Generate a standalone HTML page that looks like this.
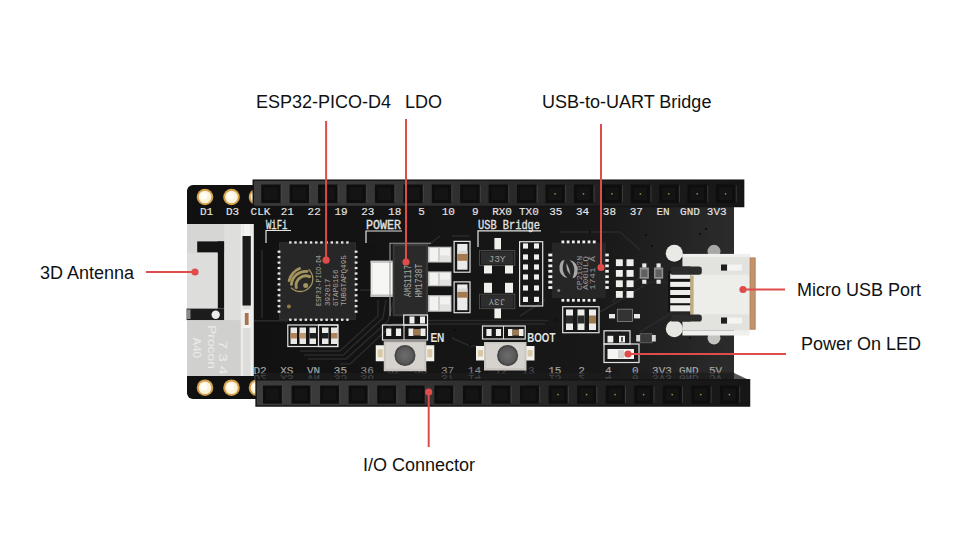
<!DOCTYPE html><html><head><meta charset="utf-8"><style>html,body{margin:0;padding:0;background:#fff;width:960px;height:540px;overflow:hidden}svg{display:block}</style></head><body>
<svg width="960" height="540" viewBox="0 0 960 540">
<defs>
<linearGradient id="hdr" x1="0" x2="1" y1="0" y2="0">
 <stop offset="0" stop-color="#3d3d3d"/><stop offset="0.3" stop-color="#353535"/><stop offset="0.6" stop-color="#262626"/><stop offset="0.85" stop-color="#1a1a1a"/><stop offset="1" stop-color="#161616"/>
</linearGradient>
<linearGradient id="brd" x1="0" x2="1" y1="0" y2="0">
 <stop offset="0" stop-color="#101010"/><stop offset="0.5" stop-color="#151515"/><stop offset="0.75" stop-color="#181818"/><stop offset="0.88" stop-color="#222"/><stop offset="1" stop-color="#2c2c2c"/>
</linearGradient>
<radialGradient id="btn" cx="0.5" cy="0.5" r="0.5">
 <stop offset="0" stop-color="#6e6e6e"/><stop offset="0.75" stop-color="#585858"/><stop offset="1" stop-color="#3a3a3a"/>
</radialGradient>
<linearGradient id="face" x1="0" x2="0" y1="0" y2="1">
 <stop offset="0" stop-color="#1a1a1a" stop-opacity="0.25"/><stop offset="1" stop-color="#1a1a1a" stop-opacity="0.85"/>
</linearGradient>
</defs>
<rect width="960" height="540" fill="#fff"/>
<rect x="187" y="185" width="547" height="214" rx="6" fill="url(#brd)"/>
<path d="M 300 351 L 340 351 L 378 316 L 378 300" fill="none" stroke="#2a2a2a" stroke-width="1.5"/>
<path d="M 304 355 L 343 355 L 383 318 L 386 300" fill="none" stroke="#2a2a2a" stroke-width="1.5"/>
<path d="M 308 359 L 346 359 L 388 321 L 394 300" fill="none" stroke="#2a2a2a" stroke-width="1.5"/>
<path d="M 340 364 L 350 364 L 393 324 L 430 324 L 545 324" fill="none" stroke="#2a2a2a" stroke-width="1.5"/>
<path d="M 428 320.5 L 548 320.5" fill="none" stroke="#2a2a2a" stroke-width="1.5"/>
<path d="M 253 320.8 L 288 320.8" fill="none" stroke="#2a2a2a" stroke-width="1.5"/>
<path d="M 262 250 L 262 318" fill="none" stroke="#2a2a2a" stroke-width="1.5"/>
<path d="M 360 290 L 372 290 L 440 236" fill="none" stroke="#2a2a2a" stroke-width="1.5"/>
<path d="M 452 338 L 470 346 L 478 346" fill="none" stroke="#2a2a2a" stroke-width="1.5"/>
<path d="M 520 316 L 545 300" fill="none" stroke="#2a2a2a" stroke-width="1.5"/>
<path d="M 600 312 L 650 282 L 665 282" fill="none" stroke="#2a2a2a" stroke-width="1.5"/>
<path d="M 612 302 L 650 268" fill="none" stroke="#2a2a2a" stroke-width="1.5"/>
<path d="M 640 332 L 690 302" fill="none" stroke="#2a2a2a" stroke-width="1.5"/>
<path d="M 560 232 L 620 232 L 640 250" fill="none" stroke="#2a2a2a" stroke-width="1.5"/>
<path d="M 452 236 L 470 236" fill="none" stroke="#2a2a2a" stroke-width="1.5"/>
<circle cx="590" cy="232" r="1.1" fill="#0c0c0c"/>
<circle cx="646" cy="235" r="1.1" fill="#0c0c0c"/>
<circle cx="700" cy="234" r="1.1" fill="#0c0c0c"/>
<circle cx="706" cy="229" r="1.1" fill="#0c0c0c"/>
<circle cx="652" cy="246" r="1.1" fill="#0c0c0c"/>
<circle cx="555" cy="320" r="1.1" fill="#0c0c0c"/>
<circle cx="620" cy="332" r="1.1" fill="#0c0c0c"/>
<circle cx="360" cy="280" r="1.1" fill="#0c0c0c"/>
<circle cx="372" cy="248" r="1.1" fill="#0c0c0c"/>
<circle cx="455" cy="330" r="1.1" fill="#0c0c0c"/>
<circle cx="470" cy="345" r="1.1" fill="#0c0c0c"/>
<circle cx="525" cy="300" r="1.1" fill="#0c0c0c"/>
<circle cx="690" cy="338" r="1.1" fill="#0c0c0c"/>
<rect x="187.00" y="224.00" width="54.00" height="152.00" fill="#d6d6d4" />
<rect x="239.00" y="224.00" width="4.00" height="152.00" fill="#ededeb" />
<rect x="243.00" y="224.00" width="9.50" height="152.00" fill="#dcdcda" />
<rect x="250.50" y="224.00" width="3.30" height="152.00" fill="#eeeeec" />
<rect x="242.50" y="236.00" width="8.30" height="69.50" fill="#1a1a1a" />
<rect x="243.50" y="224.00" width="6.50" height="12.00" fill="#f2f2f0" />
<rect x="197.20" y="241.40" width="27.10" height="11.20" fill="#141414" />
<rect x="217.60" y="241.40" width="6.70" height="67.00" fill="#141414" />
<rect x="186.60" y="308.40" width="37.70" height="11.80" fill="#1c1c1c" />
<rect x="187.00" y="309.50" width="3.50" height="9.50" fill="#8a8a8a" />
<circle cx="215.7" cy="314.7" r="4.2" fill="#ebebe9"/>
<rect x="187.00" y="252.60" width="30.60" height="55.80" fill="#dddddb" />
<rect x="224.30" y="224.00" width="16.50" height="96.20" fill="#dededc" />
<rect x="187.00" y="320.20" width="53.80" height="55.80" fill="#d0d0ce" />
<rect x="243.00" y="309.50" width="7.50" height="18.50" fill="#f3f3f1" />
<rect x="244.80" y="313.00" width="3.80" height="12.00" fill="#a87450" />
<text transform="translate(207.5,325) rotate(90)" font-family="Liberation Sans, sans-serif" font-size="10" fill="#ececea" textLength="44" lengthAdjust="spacingAndGlyphs">Procon</text>
<text transform="translate(192.5,337.5) rotate(90)" font-family="Liberation Sans, sans-serif" font-size="10" fill="#ececea" textLength="20.5" lengthAdjust="spacingAndGlyphs">A40</text>
<text transform="translate(218.5,340.6) rotate(90)" font-family="Liberation Sans, sans-serif" font-size="10" fill="#ececea" textLength="34" lengthAdjust="spacingAndGlyphs">7 3 4</text>
<circle cx="205" cy="197" r="8.3" fill="#d49f48"/><circle cx="205" cy="197" r="6.3" fill="#fbf2dc"/><circle cx="204" cy="196" r="3.5" fill="#fffdf6"/>
<circle cx="205" cy="387.7" r="8.3" fill="#d49f48"/><circle cx="205" cy="387.7" r="6.3" fill="#fbf2dc"/><circle cx="204" cy="386.7" r="3.5" fill="#fffdf6"/>
<circle cx="231.5" cy="197" r="8.3" fill="#d49f48"/><circle cx="231.5" cy="197" r="6.3" fill="#fbf2dc"/><circle cx="230.5" cy="196" r="3.5" fill="#fffdf6"/>
<circle cx="231.5" cy="387.7" r="8.3" fill="#d49f48"/><circle cx="231.5" cy="387.7" r="6.3" fill="#fbf2dc"/><circle cx="230.5" cy="386.7" r="3.5" fill="#fffdf6"/>
<circle cx="257" cy="197" r="8.3" fill="#d49f48"/><circle cx="257" cy="197" r="6.3" fill="#fbf2dc"/><circle cx="256" cy="196" r="3.5" fill="#fffdf6"/>
<circle cx="257" cy="387.7" r="8.3" fill="#d49f48"/><circle cx="257" cy="387.7" r="6.3" fill="#fbf2dc"/><circle cx="256" cy="386.7" r="3.5" fill="#fffdf6"/>
<text x="206.5" y="215" text-anchor="middle" font-family="Liberation Mono, monospace" font-size="11" fill="#e4e4e4" stroke="#e4e4e4" stroke-width="0.15" >D1</text>
<text x="232.5" y="215" text-anchor="middle" font-family="Liberation Mono, monospace" font-size="11" fill="#e4e4e4" stroke="#e4e4e4" stroke-width="0.15" >D3</text>
<text x="260.5" y="215" text-anchor="middle" font-family="Liberation Mono, monospace" font-size="11" fill="#e4e4e4" stroke="#e4e4e4" stroke-width="0.15" >CLK</text>
<text x="287.34" y="215" text-anchor="middle" font-family="Liberation Mono, monospace" font-size="11" fill="#e4e4e4" stroke="#e4e4e4" stroke-width="0.15" >21</text>
<text x="314.18" y="215" text-anchor="middle" font-family="Liberation Mono, monospace" font-size="11" fill="#e4e4e4" stroke="#e4e4e4" stroke-width="0.15" >22</text>
<text x="341.02" y="215" text-anchor="middle" font-family="Liberation Mono, monospace" font-size="11" fill="#e4e4e4" stroke="#e4e4e4" stroke-width="0.15" >19</text>
<text x="367.86" y="215" text-anchor="middle" font-family="Liberation Mono, monospace" font-size="11" fill="#e4e4e4" stroke="#e4e4e4" stroke-width="0.15" >23</text>
<text x="394.7" y="215" text-anchor="middle" font-family="Liberation Mono, monospace" font-size="11" fill="#e4e4e4" stroke="#e4e4e4" stroke-width="0.15" >18</text>
<text x="421.53999999999996" y="215" text-anchor="middle" font-family="Liberation Mono, monospace" font-size="11" fill="#e4e4e4" stroke="#e4e4e4" stroke-width="0.15" >5</text>
<text x="448.38" y="215" text-anchor="middle" font-family="Liberation Mono, monospace" font-size="11" fill="#e4e4e4" stroke="#e4e4e4" stroke-width="0.15" >10</text>
<text x="475.22" y="215" text-anchor="middle" font-family="Liberation Mono, monospace" font-size="11" fill="#e4e4e4" stroke="#e4e4e4" stroke-width="0.15" >9</text>
<text x="502.06" y="215" text-anchor="middle" font-family="Liberation Mono, monospace" font-size="11" fill="#e4e4e4" stroke="#e4e4e4" stroke-width="0.15" >RX0</text>
<text x="528.9" y="215" text-anchor="middle" font-family="Liberation Mono, monospace" font-size="11" fill="#e4e4e4" stroke="#e4e4e4" stroke-width="0.15" >TX0</text>
<text x="555.74" y="215" text-anchor="middle" font-family="Liberation Mono, monospace" font-size="11" fill="#e4e4e4" stroke="#e4e4e4" stroke-width="0.15" >35</text>
<text x="582.5799999999999" y="215" text-anchor="middle" font-family="Liberation Mono, monospace" font-size="11" fill="#e4e4e4" stroke="#e4e4e4" stroke-width="0.15" >34</text>
<text x="609.4200000000001" y="215" text-anchor="middle" font-family="Liberation Mono, monospace" font-size="11" fill="#e4e4e4" stroke="#e4e4e4" stroke-width="0.15" >38</text>
<text x="636.26" y="215" text-anchor="middle" font-family="Liberation Mono, monospace" font-size="11" fill="#e4e4e4" stroke="#e4e4e4" stroke-width="0.15" >37</text>
<text x="663.1" y="215" text-anchor="middle" font-family="Liberation Mono, monospace" font-size="11" fill="#e4e4e4" stroke="#e4e4e4" stroke-width="0.15" >EN</text>
<text x="689.94" y="215" text-anchor="middle" font-family="Liberation Mono, monospace" font-size="11" fill="#e4e4e4" stroke="#e4e4e4" stroke-width="0.15" >GND</text>
<text x="716.78" y="215" text-anchor="middle" font-family="Liberation Mono, monospace" font-size="11" fill="#e4e4e4" stroke="#e4e4e4" stroke-width="0.15" >3V3</text>
<text x="260.0" y="373.8" text-anchor="middle" font-family="Liberation Mono, monospace" font-size="11" fill="#a8a8a8" stroke="#a8a8a8" stroke-width="0.15" >D2</text>
<text x="286.8" y="373.8" text-anchor="middle" font-family="Liberation Mono, monospace" font-size="11" fill="#a8a8a8" stroke="#a8a8a8" stroke-width="0.15" >XS</text>
<text x="313.6" y="373.8" text-anchor="middle" font-family="Liberation Mono, monospace" font-size="11" fill="#a8a8a8" stroke="#a8a8a8" stroke-width="0.15" >VN</text>
<text x="340.4" y="373.8" text-anchor="middle" font-family="Liberation Mono, monospace" font-size="11" fill="#a8a8a8" stroke="#a8a8a8" stroke-width="0.15" >35</text>
<text x="367.2" y="373.8" text-anchor="middle" font-family="Liberation Mono, monospace" font-size="11" fill="#b4b4b4" stroke="#b4b4b4" stroke-width="0.15" opacity="0.7">36</text>
<text x="394.0" y="373.8" text-anchor="middle" font-family="Liberation Mono, monospace" font-size="11" fill="#9a9a9a" stroke="#9a9a9a" stroke-width="0.15" opacity="0.4">32</text>
<text x="420.8" y="373.8" text-anchor="middle" font-family="Liberation Mono, monospace" font-size="11" fill="#9a9a9a" stroke="#9a9a9a" stroke-width="0.15" opacity="0.4">33</text>
<text x="447.6" y="373.8" text-anchor="middle" font-family="Liberation Mono, monospace" font-size="11" fill="#b4b4b4" stroke="#b4b4b4" stroke-width="0.15" opacity="0.7">37</text>
<text x="474.4" y="373.8" text-anchor="middle" font-family="Liberation Mono, monospace" font-size="11" fill="#b4b4b4" stroke="#b4b4b4" stroke-width="0.15" opacity="0.7">14</text>
<text x="501.20000000000005" y="373.8" text-anchor="middle" font-family="Liberation Mono, monospace" font-size="11" fill="#9a9a9a" stroke="#9a9a9a" stroke-width="0.15" opacity="0.4">12</text>
<text x="528.0" y="373.8" text-anchor="middle" font-family="Liberation Mono, monospace" font-size="11" fill="#9a9a9a" stroke="#9a9a9a" stroke-width="0.15" opacity="0.4">13</text>
<text x="554.8" y="373.8" text-anchor="middle" font-family="Liberation Mono, monospace" font-size="11" fill="#a8a8a8" stroke="#a8a8a8" stroke-width="0.15" >15</text>
<text x="581.6" y="373.8" text-anchor="middle" font-family="Liberation Mono, monospace" font-size="11" fill="#a8a8a8" stroke="#a8a8a8" stroke-width="0.15" >2</text>
<text x="608.4000000000001" y="373.8" text-anchor="middle" font-family="Liberation Mono, monospace" font-size="11" fill="#a8a8a8" stroke="#a8a8a8" stroke-width="0.15" >4</text>
<text x="635.2" y="373.8" text-anchor="middle" font-family="Liberation Mono, monospace" font-size="11" fill="#a8a8a8" stroke="#a8a8a8" stroke-width="0.15" >0</text>
<text x="662.0" y="373.8" text-anchor="middle" font-family="Liberation Mono, monospace" font-size="11" fill="#a8a8a8" stroke="#a8a8a8" stroke-width="0.15" >3V3</text>
<text x="688.8" y="373.8" text-anchor="middle" font-family="Liberation Mono, monospace" font-size="11" fill="#a8a8a8" stroke="#a8a8a8" stroke-width="0.15" >GND</text>
<text x="715.6" y="373.8" text-anchor="middle" font-family="Liberation Mono, monospace" font-size="11" fill="#a8a8a8" stroke="#a8a8a8" stroke-width="0.15" >5V</text>
<text x="266" y="228.8" font-family="Liberation Mono, monospace" font-size="12" fill="#e4e4e4" stroke="#e4e4e4" stroke-width="0.3" textLength="21.5" lengthAdjust="spacingAndGlyphs">WiFi</text>
<path d="M 266 243 L 266 230.5 L 291 230.5" fill="none" stroke="#e4e4e4" stroke-width="1.2"/>
<text x="366" y="229.2" font-family="Liberation Mono, monospace" font-size="12" fill="#e4e4e4" stroke="#e4e4e4" stroke-width="0.3" textLength="35" lengthAdjust="spacingAndGlyphs">POWER</text>
<path d="M 366 243 L 366 231 L 402 231" fill="none" stroke="#e4e4e4" stroke-width="1.2"/>
<text x="478" y="229.4" font-family="Liberation Mono, monospace" font-size="12" fill="#e4e4e4" stroke="#e4e4e4" stroke-width="0.3" textLength="62" lengthAdjust="spacingAndGlyphs">USB Bridge</text>
<path d="M 478 247 L 478 230.8 L 541 230.8" fill="none" stroke="#e4e4e4" stroke-width="1.2"/>
<text x="430.4" y="342" font-family="Liberation Sans, sans-serif" font-weight="bold" font-size="13.5" fill="#e4e4e4" textLength="14" lengthAdjust="spacingAndGlyphs">EN</text>
<text x="527.3" y="342" font-family="Liberation Sans, sans-serif" font-weight="bold" font-size="13.5" fill="#e4e4e4" textLength="28" lengthAdjust="spacingAndGlyphs">BOOT</text>
<rect x="253.30" y="180.20" width="490.30" height="26.30" fill="url(#hdr)" />
<rect x="253.3" y="180.2" width="490.3" height="26.30000000000001" fill="none" stroke="#141414" stroke-width="1.5"/>
<rect x="261.25" y="184.50" width="19.30" height="18.60" fill="#0e0e0e" />
<rect x="264.25" y="187.50" width="13.30" height="12.60" fill="#141414" />
<rect x="281.05" y="185.50" width="0.90" height="16.60" fill="#4a4a4a" opacity="0.7"/>
<rect x="289.67" y="184.50" width="19.30" height="18.60" fill="#0e0e0e" />
<rect x="292.67" y="187.50" width="13.30" height="12.60" fill="#141414" />
<rect x="309.47" y="185.50" width="0.90" height="16.60" fill="#4a4a4a" opacity="0.7"/>
<rect x="318.09" y="184.50" width="19.30" height="18.60" fill="#0e0e0e" />
<rect x="321.09" y="187.50" width="13.30" height="12.60" fill="#141414" />
<rect x="337.89" y="185.50" width="0.90" height="16.60" fill="#4a4a4a" opacity="0.7"/>
<rect x="346.51" y="184.50" width="19.30" height="18.60" fill="#0e0e0e" />
<rect x="349.51" y="187.50" width="13.30" height="12.60" fill="#141414" />
<rect x="366.31" y="185.50" width="0.90" height="16.60" fill="#4a4a4a" opacity="0.7"/>
<rect x="374.93" y="184.50" width="19.30" height="18.60" fill="#0e0e0e" />
<rect x="377.93" y="187.50" width="13.30" height="12.60" fill="#141414" />
<rect x="394.73" y="185.50" width="0.90" height="16.60" fill="#4a4a4a" opacity="0.7"/>
<rect x="403.35" y="184.50" width="19.30" height="18.60" fill="#0e0e0e" />
<rect x="406.35" y="187.50" width="13.30" height="12.60" fill="#141414" />
<rect x="423.15" y="185.50" width="0.90" height="16.60" fill="#4a4a4a" opacity="0.7"/>
<rect x="431.77" y="184.50" width="19.30" height="18.60" fill="#0e0e0e" />
<rect x="434.77" y="187.50" width="13.30" height="12.60" fill="#141414" />
<rect x="451.57" y="185.50" width="0.90" height="16.60" fill="#4a4a4a" opacity="0.7"/>
<rect x="460.19" y="184.50" width="19.30" height="18.60" fill="#0e0e0e" />
<rect x="463.19" y="187.50" width="13.30" height="12.60" fill="#141414" />
<rect x="479.99" y="185.50" width="0.90" height="16.60" fill="#4a4a4a" opacity="0.7"/>
<rect x="488.61" y="184.50" width="19.30" height="18.60" fill="#0e0e0e" />
<rect x="491.61" y="187.50" width="13.30" height="12.60" fill="#141414" />
<rect x="508.41" y="185.50" width="0.90" height="16.60" fill="#4a4a4a" opacity="0.7"/>
<rect x="517.03" y="184.50" width="19.30" height="18.60" fill="#0e0e0e" />
<rect x="520.03" y="187.50" width="13.30" height="12.60" fill="#141414" />
<rect x="536.83" y="185.50" width="0.90" height="16.60" fill="#4a4a4a" opacity="0.7"/>
<rect x="545.45" y="184.50" width="19.30" height="18.60" fill="#0e0e0e" />
<rect x="548.45" y="187.50" width="13.30" height="12.60" fill="#141414" />
<circle cx="555.1" cy="193.8" r="0.9" fill="#9a8640"/>
<rect x="565.25" y="185.50" width="0.90" height="16.60" fill="#4a4a4a" opacity="0.7"/>
<rect x="573.87" y="184.50" width="19.30" height="18.60" fill="#0e0e0e" />
<rect x="576.87" y="187.50" width="13.30" height="12.60" fill="#141414" />
<circle cx="583.5" cy="193.8" r="0.9" fill="#9a8640"/>
<rect x="593.67" y="185.50" width="0.90" height="16.60" fill="#4a4a4a" opacity="0.7"/>
<rect x="602.29" y="184.50" width="19.30" height="18.60" fill="#0e0e0e" />
<rect x="605.29" y="187.50" width="13.30" height="12.60" fill="#141414" />
<circle cx="611.9" cy="193.8" r="0.9" fill="#9a8640"/>
<rect x="622.09" y="185.50" width="0.90" height="16.60" fill="#4a4a4a" opacity="0.7"/>
<rect x="630.71" y="184.50" width="19.30" height="18.60" fill="#0e0e0e" />
<rect x="633.71" y="187.50" width="13.30" height="12.60" fill="#141414" />
<circle cx="640.4" cy="193.8" r="0.9" fill="#9a8640"/>
<rect x="650.51" y="185.50" width="0.90" height="16.60" fill="#4a4a4a" opacity="0.7"/>
<rect x="659.13" y="184.50" width="19.30" height="18.60" fill="#0e0e0e" />
<rect x="662.13" y="187.50" width="13.30" height="12.60" fill="#141414" />
<circle cx="668.8" cy="193.8" r="0.9" fill="#9a8640"/>
<rect x="678.93" y="185.50" width="0.90" height="16.60" fill="#4a4a4a" opacity="0.7"/>
<rect x="687.55" y="184.50" width="19.30" height="18.60" fill="#0e0e0e" />
<rect x="690.55" y="187.50" width="13.30" height="12.60" fill="#141414" />
<circle cx="697.2" cy="193.8" r="0.9" fill="#9a8640"/>
<rect x="707.35" y="185.50" width="0.90" height="16.60" fill="#4a4a4a" opacity="0.7"/>
<rect x="715.97" y="184.50" width="19.30" height="18.60" fill="#0e0e0e" />
<rect x="718.97" y="187.50" width="13.30" height="12.60" fill="#141414" />
<circle cx="725.6" cy="193.8" r="0.9" fill="#9a8640"/>
<rect x="735.77" y="185.50" width="0.90" height="16.60" fill="#4a4a4a" opacity="0.7"/>
<path d="M 256 373 L 733 372.5 L 748.5 379.8 L 256 379.8 Z" fill="#1c1c1c" opacity="0.75"/>
<g opacity="0.3" transform="translate(0,748.5) scale(1,-1)">
<text x="260.0" y="373.8" text-anchor="middle" font-family="Liberation Mono, monospace" font-size="11" fill="#a8a8a8" stroke="#a8a8a8" stroke-width="0.15" >D2</text>
<text x="286.8" y="373.8" text-anchor="middle" font-family="Liberation Mono, monospace" font-size="11" fill="#a8a8a8" stroke="#a8a8a8" stroke-width="0.15" >XS</text>
<text x="313.6" y="373.8" text-anchor="middle" font-family="Liberation Mono, monospace" font-size="11" fill="#a8a8a8" stroke="#a8a8a8" stroke-width="0.15" >VN</text>
<text x="340.4" y="373.8" text-anchor="middle" font-family="Liberation Mono, monospace" font-size="11" fill="#a8a8a8" stroke="#a8a8a8" stroke-width="0.15" >35</text>
<text x="367.2" y="373.8" text-anchor="middle" font-family="Liberation Mono, monospace" font-size="11" fill="#a8a8a8" stroke="#a8a8a8" stroke-width="0.15" >36</text>
<text x="447.6" y="373.8" text-anchor="middle" font-family="Liberation Mono, monospace" font-size="11" fill="#a8a8a8" stroke="#a8a8a8" stroke-width="0.15" >37</text>
<text x="474.4" y="373.8" text-anchor="middle" font-family="Liberation Mono, monospace" font-size="11" fill="#a8a8a8" stroke="#a8a8a8" stroke-width="0.15" >14</text>
<text x="554.8" y="373.8" text-anchor="middle" font-family="Liberation Mono, monospace" font-size="11" fill="#a8a8a8" stroke="#a8a8a8" stroke-width="0.15" >15</text>
<text x="581.6" y="373.8" text-anchor="middle" font-family="Liberation Mono, monospace" font-size="11" fill="#a8a8a8" stroke="#a8a8a8" stroke-width="0.15" >2</text>
<text x="608.4000000000001" y="373.8" text-anchor="middle" font-family="Liberation Mono, monospace" font-size="11" fill="#a8a8a8" stroke="#a8a8a8" stroke-width="0.15" >4</text>
<text x="635.2" y="373.8" text-anchor="middle" font-family="Liberation Mono, monospace" font-size="11" fill="#a8a8a8" stroke="#a8a8a8" stroke-width="0.15" >0</text>
<text x="662.0" y="373.8" text-anchor="middle" font-family="Liberation Mono, monospace" font-size="11" fill="#a8a8a8" stroke="#a8a8a8" stroke-width="0.15" >3V3</text>
<text x="688.8" y="373.8" text-anchor="middle" font-family="Liberation Mono, monospace" font-size="11" fill="#a8a8a8" stroke="#a8a8a8" stroke-width="0.15" >GND</text>
<text x="715.6" y="373.8" text-anchor="middle" font-family="Liberation Mono, monospace" font-size="11" fill="#a8a8a8" stroke="#a8a8a8" stroke-width="0.15" >5V</text>
</g>
<rect x="256.10" y="379.80" width="493.40" height="26.20" fill="url(#hdr)" />
<rect x="256.1" y="379.8" width="493.4" height="26.19999999999999" fill="none" stroke="#141414" stroke-width="1.5"/>
<rect x="263.00" y="385.50" width="18.80" height="18.20" fill="#0e0e0e" />
<rect x="266.00" y="388.50" width="12.80" height="12.20" fill="#141414" />
<rect x="282.30" y="386.50" width="0.90" height="16.20" fill="#4a4a4a" opacity="0.7"/>
<rect x="291.56" y="385.50" width="18.80" height="18.20" fill="#0e0e0e" />
<rect x="294.56" y="388.50" width="12.80" height="12.20" fill="#141414" />
<rect x="310.86" y="386.50" width="0.90" height="16.20" fill="#4a4a4a" opacity="0.7"/>
<rect x="320.12" y="385.50" width="18.80" height="18.20" fill="#0e0e0e" />
<rect x="323.12" y="388.50" width="12.80" height="12.20" fill="#141414" />
<rect x="339.42" y="386.50" width="0.90" height="16.20" fill="#4a4a4a" opacity="0.7"/>
<rect x="348.68" y="385.50" width="18.80" height="18.20" fill="#0e0e0e" />
<rect x="351.68" y="388.50" width="12.80" height="12.20" fill="#141414" />
<rect x="367.98" y="386.50" width="0.90" height="16.20" fill="#4a4a4a" opacity="0.7"/>
<rect x="377.24" y="385.50" width="18.80" height="18.20" fill="#0e0e0e" />
<rect x="380.24" y="388.50" width="12.80" height="12.20" fill="#141414" />
<rect x="396.54" y="386.50" width="0.90" height="16.20" fill="#4a4a4a" opacity="0.7"/>
<rect x="405.80" y="385.50" width="18.80" height="18.20" fill="#0e0e0e" />
<rect x="408.80" y="388.50" width="12.80" height="12.20" fill="#141414" />
<rect x="425.10" y="386.50" width="0.90" height="16.20" fill="#4a4a4a" opacity="0.7"/>
<rect x="434.36" y="385.50" width="18.80" height="18.20" fill="#0e0e0e" />
<rect x="437.36" y="388.50" width="12.80" height="12.20" fill="#141414" />
<rect x="453.66" y="386.50" width="0.90" height="16.20" fill="#4a4a4a" opacity="0.7"/>
<rect x="462.92" y="385.50" width="18.80" height="18.20" fill="#0e0e0e" />
<rect x="465.92" y="388.50" width="12.80" height="12.20" fill="#141414" />
<rect x="482.22" y="386.50" width="0.90" height="16.20" fill="#4a4a4a" opacity="0.7"/>
<rect x="491.48" y="385.50" width="18.80" height="18.20" fill="#0e0e0e" />
<rect x="494.48" y="388.50" width="12.80" height="12.20" fill="#141414" />
<rect x="510.78" y="386.50" width="0.90" height="16.20" fill="#4a4a4a" opacity="0.7"/>
<rect x="520.04" y="385.50" width="18.80" height="18.20" fill="#0e0e0e" />
<rect x="523.04" y="388.50" width="12.80" height="12.20" fill="#141414" />
<rect x="539.34" y="386.50" width="0.90" height="16.20" fill="#4a4a4a" opacity="0.7"/>
<rect x="548.60" y="385.50" width="18.80" height="18.20" fill="#0e0e0e" />
<rect x="551.60" y="388.50" width="12.80" height="12.20" fill="#141414" />
<circle cx="558.0" cy="394.6" r="0.9" fill="#9a8640"/>
<rect x="567.90" y="386.50" width="0.90" height="16.20" fill="#4a4a4a" opacity="0.7"/>
<rect x="577.16" y="385.50" width="18.80" height="18.20" fill="#0e0e0e" />
<rect x="580.16" y="388.50" width="12.80" height="12.20" fill="#141414" />
<circle cx="586.6" cy="394.6" r="0.9" fill="#9a8640"/>
<rect x="596.46" y="386.50" width="0.90" height="16.20" fill="#4a4a4a" opacity="0.7"/>
<rect x="605.72" y="385.50" width="18.80" height="18.20" fill="#0e0e0e" />
<rect x="608.72" y="388.50" width="12.80" height="12.20" fill="#141414" />
<circle cx="615.1" cy="394.6" r="0.9" fill="#9a8640"/>
<rect x="625.02" y="386.50" width="0.90" height="16.20" fill="#4a4a4a" opacity="0.7"/>
<rect x="634.28" y="385.50" width="18.80" height="18.20" fill="#0e0e0e" />
<rect x="637.28" y="388.50" width="12.80" height="12.20" fill="#141414" />
<circle cx="643.7" cy="394.6" r="0.9" fill="#9a8640"/>
<rect x="653.58" y="386.50" width="0.90" height="16.20" fill="#4a4a4a" opacity="0.7"/>
<rect x="662.84" y="385.50" width="18.80" height="18.20" fill="#0e0e0e" />
<rect x="665.84" y="388.50" width="12.80" height="12.20" fill="#141414" />
<circle cx="672.2" cy="394.6" r="0.9" fill="#9a8640"/>
<rect x="682.14" y="386.50" width="0.90" height="16.20" fill="#4a4a4a" opacity="0.7"/>
<rect x="691.40" y="385.50" width="18.80" height="18.20" fill="#0e0e0e" />
<rect x="694.40" y="388.50" width="12.80" height="12.20" fill="#141414" />
<circle cx="700.8" cy="394.6" r="0.9" fill="#9a8640"/>
<rect x="710.70" y="386.50" width="0.90" height="16.20" fill="#4a4a4a" opacity="0.7"/>
<rect x="719.96" y="385.50" width="18.80" height="18.20" fill="#0e0e0e" />
<rect x="722.96" y="388.50" width="12.80" height="12.20" fill="#141414" />
<circle cx="729.4" cy="394.6" r="0.9" fill="#9a8640"/>
<rect x="739.26" y="386.50" width="0.90" height="16.20" fill="#4a4a4a" opacity="0.7"/>
<rect x="279.50" y="242.80" width="76.10" height="76.60" fill="#272727" />
<rect x="279.50" y="242.80" width="76.10" height="76.60" fill="none" stroke="#333" stroke-width="0.8" />
<rect x="289.10" y="241.30" width="2.40" height="2.30" fill="#e8e8e8" />
<rect x="289.10" y="318.60" width="2.40" height="2.30" fill="#e8e8e8" />
<rect x="277.60" y="250.60" width="2.80" height="2.20" fill="#e8e8e8" />
<rect x="354.70" y="250.60" width="2.80" height="2.20" fill="#e8e8e8" />
<rect x="294.29" y="241.30" width="2.40" height="2.30" fill="#e8e8e8" />
<rect x="294.29" y="318.60" width="2.40" height="2.30" fill="#e8e8e8" />
<rect x="277.60" y="256.05" width="2.80" height="2.20" fill="#e8e8e8" />
<rect x="354.70" y="256.05" width="2.80" height="2.20" fill="#e8e8e8" />
<rect x="299.48" y="241.30" width="2.40" height="2.30" fill="#e8e8e8" />
<rect x="299.48" y="318.60" width="2.40" height="2.30" fill="#e8e8e8" />
<rect x="277.60" y="261.50" width="2.80" height="2.20" fill="#e8e8e8" />
<rect x="354.70" y="261.50" width="2.80" height="2.20" fill="#e8e8e8" />
<rect x="304.67" y="241.30" width="2.40" height="2.30" fill="#e8e8e8" />
<rect x="304.67" y="318.60" width="2.40" height="2.30" fill="#e8e8e8" />
<rect x="277.60" y="266.95" width="2.80" height="2.20" fill="#e8e8e8" />
<rect x="354.70" y="266.95" width="2.80" height="2.20" fill="#e8e8e8" />
<rect x="309.86" y="241.30" width="2.40" height="2.30" fill="#e8e8e8" />
<rect x="309.86" y="318.60" width="2.40" height="2.30" fill="#e8e8e8" />
<rect x="277.60" y="272.40" width="2.80" height="2.20" fill="#e8e8e8" />
<rect x="354.70" y="272.40" width="2.80" height="2.20" fill="#e8e8e8" />
<rect x="315.05" y="241.30" width="2.40" height="2.30" fill="#e8e8e8" />
<rect x="315.05" y="318.60" width="2.40" height="2.30" fill="#e8e8e8" />
<rect x="277.60" y="277.85" width="2.80" height="2.20" fill="#e8e8e8" />
<rect x="354.70" y="277.85" width="2.80" height="2.20" fill="#e8e8e8" />
<rect x="320.24" y="241.30" width="2.40" height="2.30" fill="#e8e8e8" />
<rect x="320.24" y="318.60" width="2.40" height="2.30" fill="#e8e8e8" />
<rect x="277.60" y="283.30" width="2.80" height="2.20" fill="#e8e8e8" />
<rect x="354.70" y="283.30" width="2.80" height="2.20" fill="#e8e8e8" />
<rect x="325.43" y="241.30" width="2.40" height="2.30" fill="#e8e8e8" />
<rect x="325.43" y="318.60" width="2.40" height="2.30" fill="#e8e8e8" />
<rect x="277.60" y="288.75" width="2.80" height="2.20" fill="#e8e8e8" />
<rect x="354.70" y="288.75" width="2.80" height="2.20" fill="#e8e8e8" />
<rect x="330.62" y="241.30" width="2.40" height="2.30" fill="#e8e8e8" />
<rect x="330.62" y="318.60" width="2.40" height="2.30" fill="#e8e8e8" />
<rect x="277.60" y="294.20" width="2.80" height="2.20" fill="#e8e8e8" />
<rect x="354.70" y="294.20" width="2.80" height="2.20" fill="#e8e8e8" />
<rect x="335.81" y="241.30" width="2.40" height="2.30" fill="#e8e8e8" />
<rect x="335.81" y="318.60" width="2.40" height="2.30" fill="#e8e8e8" />
<rect x="277.60" y="299.65" width="2.80" height="2.20" fill="#e8e8e8" />
<rect x="354.70" y="299.65" width="2.80" height="2.20" fill="#e8e8e8" />
<rect x="341.00" y="241.30" width="2.40" height="2.30" fill="#e8e8e8" />
<rect x="341.00" y="318.60" width="2.40" height="2.30" fill="#e8e8e8" />
<rect x="277.60" y="305.10" width="2.80" height="2.20" fill="#e8e8e8" />
<rect x="354.70" y="305.10" width="2.80" height="2.20" fill="#e8e8e8" />
<rect x="346.19" y="241.30" width="2.40" height="2.30" fill="#e8e8e8" />
<rect x="346.19" y="318.60" width="2.40" height="2.30" fill="#e8e8e8" />
<rect x="277.60" y="310.55" width="2.80" height="2.20" fill="#e8e8e8" />
<rect x="354.70" y="310.55" width="2.80" height="2.20" fill="#e8e8e8" />
<g stroke="#a3945e" fill="none" stroke-linecap="round"><path d="M 296.3 287.6 A 9.7 9.7 0 0 1 309.6 276.6" stroke-width="2.9"/><path d="M 291.4 284.4 A 14.4 14.4 0 0 1 307 271.4" stroke-width="2.9"/><path d="M 289.2 280.5 A 17.7 17.7 0 0 1 299.5 268.5" stroke-width="2.9"/><path d="M 308.9 269.8 A 12 12 0 1 1 291.4 288" stroke-width="1.3"/></g><circle cx="305.7" cy="285.4" r="2.5" fill="#a3945e"/>
<circle cx="288.9" cy="306.6" r="2" fill="#8f7a48"/>
<text transform="translate(321,306) rotate(-90)" font-family="Liberation Mono, monospace" font-size="7.6" fill="#aaa69a" textLength="51" lengthAdjust="spacingAndGlyphs">ESP32-PICO-D4</text>
<text transform="translate(329.5,306) rotate(-90)" font-family="Liberation Mono, monospace" font-size="7.6" fill="#aaa69a">392017</text>
<text transform="translate(337.5,306) rotate(-90)" font-family="Liberation Mono, monospace" font-size="7.6" fill="#aaa69a">GTAPG156</text>
<text transform="translate(346,306) rotate(-90)" font-family="Liberation Mono, monospace" font-size="7.6" fill="#aaa69a" textLength="51" lengthAdjust="spacingAndGlyphs">TUBGTAPQ495</text>
<rect x="287.80" y="325.00" width="50.00" height="21.50" fill="none" stroke="#e4e4e4" stroke-width="1.2" />
<rect x="318.50" y="325.00" width="19.30" height="21.50" fill="none" stroke="#e4e4e4" stroke-width="1.2" />
<rect x="290.50" y="327.50" width="6.50" height="16.50" fill="#e8e8e6" />
<rect x="290.50" y="333.00" width="6.50" height="5.50" fill="#b08458" />
<rect x="299.50" y="327.50" width="6.50" height="16.50" fill="#e8e8e6" />
<rect x="299.50" y="333.00" width="6.50" height="5.50" fill="#c0976a" />
<rect x="309.50" y="327.50" width="6.50" height="16.50" fill="#e8e8e6" />
<rect x="309.50" y="333.00" width="6.50" height="5.50" fill="#1e1e1e" />
<rect x="322.00" y="327.50" width="6.50" height="16.50" fill="#e8e8e6" />
<rect x="322.00" y="333.00" width="6.50" height="5.50" fill="#1e1e1e" />
<rect x="331.00" y="327.50" width="6.50" height="16.50" fill="#e8e8e6" />
<rect x="331.00" y="333.00" width="6.50" height="5.50" fill="#b08458" />
<rect x="370.60" y="260.80" width="22.80" height="36.10" fill="#e8e8e6" />
<rect x="373.00" y="263.00" width="19.00" height="32.00" fill="#f6f6f4" />
<rect x="370.60" y="260.80" width="22.80" height="2.20" fill="#c8c8c6" />
<rect x="370.60" y="294.50" width="22.80" height="2.40" fill="#bdbdbb" />
<path d="M 390 316 L 390 243.2 L 431 243.2" fill="none" stroke="#9a9a9a" stroke-width="1.1"/>
<rect x="392.70" y="244.00" width="35.30" height="72.20" fill="#3a3a3a" />
<rect x="394.50" y="246.00" width="31.70" height="68.40" fill="#2a2a2a" />
<text transform="translate(410.5,297) rotate(-90)" font-family="Liberation Mono, monospace" font-size="10" fill="#a8a8a8" textLength="32" lengthAdjust="spacingAndGlyphs">AMS1117</text>
<text transform="translate(422,297.7) rotate(-90)" font-family="Liberation Mono, monospace" font-size="10" fill="#a8a8a8" textLength="34" lengthAdjust="spacingAndGlyphs">HM1738T</text>
<rect x="428.00" y="246.70" width="23.50" height="15.90" fill="#bcbcba" />
<rect x="429.50" y="247.90" width="21.00" height="13.50" fill="#f2f2f0" />
<rect x="438.00" y="247.90" width="2.00" height="13.50" fill="#d0d0ce" />
<rect x="440.00" y="255.44" width="10.50" height="5.96" fill="#e2e2e0" />
<rect x="428.00" y="271.40" width="23.50" height="14.90" fill="#bcbcba" />
<rect x="429.50" y="272.60" width="21.00" height="12.50" fill="#f2f2f0" />
<rect x="438.00" y="272.60" width="2.00" height="12.50" fill="#d0d0ce" />
<rect x="440.00" y="279.59" width="10.50" height="5.51" fill="#e2e2e0" />
<rect x="428.00" y="295.10" width="23.50" height="16.70" fill="#bcbcba" />
<rect x="429.50" y="296.30" width="21.00" height="14.30" fill="#f2f2f0" />
<rect x="438.00" y="296.30" width="2.00" height="14.30" fill="#d0d0ce" />
<rect x="440.00" y="304.29" width="10.50" height="6.31" fill="#e2e2e0" />
<rect x="454.10" y="241.40" width="15.90" height="30.80" fill="none" stroke="#e4e4e4" stroke-width="1.2" />
<rect x="457.20" y="243.90" width="10.30" height="25.80" fill="#ebebe9" />
<rect x="457.20" y="253.80" width="10.30" height="7.00" fill="#a67a50" />
<rect x="457.20" y="250.80" width="10.30" height="3.00" fill="#d8d8d4" />
<rect x="454.10" y="281.90" width="15.90" height="30.80" fill="none" stroke="#e4e4e4" stroke-width="1.2" />
<rect x="457.20" y="284.40" width="10.30" height="25.80" fill="#ebebe9" />
<rect x="457.20" y="291.60" width="10.30" height="6.10" fill="#a67a50" />
<rect x="457.20" y="288.60" width="10.30" height="3.00" fill="#d8d8d4" />
<rect x="481.00" y="251.50" width="32.30" height="13.00" fill="#2e2e2e" />
<rect x="479.50" y="250.50" width="35.30" height="15.00" fill="none" stroke="#555" stroke-width="0.8" />
<rect x="494.40" y="238.00" width="6.60" height="11.40" fill="#efefec" />
<rect x="484.00" y="265.50" width="8.00" height="8.00" fill="#efefec" />
<rect x="505.00" y="265.50" width="8.00" height="8.00" fill="#efefec" />
<text x="497" y="261.5" text-anchor="middle" font-family="Liberation Mono, monospace" font-size="9.5" fill="#a0a0a0">J3Y</text>
<rect x="481.00" y="295.20" width="32.30" height="12.50" fill="#2e2e2e" />
<rect x="479.50" y="294.20" width="35.30" height="14.50" fill="none" stroke="#555" stroke-width="0.8" />
<rect x="484.00" y="282.80" width="8.00" height="10.00" fill="#efefec" />
<rect x="505.00" y="282.80" width="8.00" height="10.00" fill="#efefec" />
<rect x="494.40" y="308.50" width="6.60" height="9.80" fill="#efefec" />
<text transform="translate(497,298.5) rotate(180)" text-anchor="middle" font-family="Liberation Mono, monospace" font-size="9.5" fill="#a0a0a0">J3Y</text>
<rect x="519.60" y="241.70" width="23.10" height="64.30" fill="none" stroke="#e4e4e4" stroke-width="1.2" />
<rect x="523.00" y="243.40" width="5.00" height="5.20" fill="#efefec" />
<rect x="534.00" y="243.40" width="5.00" height="5.20" fill="#efefec" />
<rect x="523.00" y="254.40" width="5.00" height="5.20" fill="#efefec" />
<rect x="534.00" y="254.40" width="5.00" height="5.20" fill="#efefec" />
<rect x="523.00" y="264.40" width="5.00" height="5.20" fill="#efefec" />
<rect x="534.00" y="264.40" width="5.00" height="5.20" fill="#efefec" />
<rect x="523.00" y="274.40" width="5.00" height="5.20" fill="#efefec" />
<rect x="534.00" y="274.40" width="5.00" height="5.20" fill="#efefec" />
<rect x="523.00" y="285.40" width="5.00" height="5.20" fill="#efefec" />
<rect x="534.00" y="285.40" width="5.00" height="5.20" fill="#efefec" />
<rect x="523.00" y="296.80" width="5.00" height="5.20" fill="#efefec" />
<rect x="534.00" y="296.80" width="5.00" height="5.20" fill="#efefec" />
<rect x="551.80" y="242.60" width="54.20" height="55.60" fill="#262626" />
<rect x="561.50" y="240.50" width="2.80" height="2.80" fill="#f0f0f0" />
<rect x="561.50" y="298.90" width="2.80" height="2.80" fill="#f0f0f0" />
<rect x="548.30" y="253.60" width="4.00" height="2.80" fill="#f0f0f0" />
<rect x="605.30" y="253.60" width="3.50" height="2.80" fill="#f0f0f0" />
<rect x="566.72" y="240.50" width="2.80" height="2.80" fill="#f0f0f0" />
<rect x="566.72" y="298.90" width="2.80" height="2.80" fill="#f0f0f0" />
<rect x="548.30" y="259.02" width="4.00" height="2.80" fill="#f0f0f0" />
<rect x="605.30" y="259.02" width="3.50" height="2.80" fill="#f0f0f0" />
<rect x="571.94" y="240.50" width="2.80" height="2.80" fill="#f0f0f0" />
<rect x="571.94" y="298.90" width="2.80" height="2.80" fill="#f0f0f0" />
<rect x="548.30" y="264.44" width="4.00" height="2.80" fill="#f0f0f0" />
<rect x="605.30" y="264.44" width="3.50" height="2.80" fill="#f0f0f0" />
<rect x="577.16" y="240.50" width="2.80" height="2.80" fill="#f0f0f0" />
<rect x="577.16" y="298.90" width="2.80" height="2.80" fill="#f0f0f0" />
<rect x="548.30" y="269.86" width="4.00" height="2.80" fill="#f0f0f0" />
<rect x="605.30" y="269.86" width="3.50" height="2.80" fill="#f0f0f0" />
<rect x="582.38" y="240.50" width="2.80" height="2.80" fill="#f0f0f0" />
<rect x="582.38" y="298.90" width="2.80" height="2.80" fill="#f0f0f0" />
<rect x="548.30" y="275.28" width="4.00" height="2.80" fill="#f0f0f0" />
<rect x="605.30" y="275.28" width="3.50" height="2.80" fill="#f0f0f0" />
<rect x="587.60" y="240.50" width="2.80" height="2.80" fill="#f0f0f0" />
<rect x="587.60" y="298.90" width="2.80" height="2.80" fill="#f0f0f0" />
<rect x="548.30" y="280.70" width="4.00" height="2.80" fill="#f0f0f0" />
<rect x="605.30" y="280.70" width="3.50" height="2.80" fill="#f0f0f0" />
<rect x="592.82" y="240.50" width="2.80" height="2.80" fill="#f0f0f0" />
<rect x="592.82" y="298.90" width="2.80" height="2.80" fill="#f0f0f0" />
<rect x="548.30" y="286.12" width="4.00" height="2.80" fill="#f0f0f0" />
<rect x="605.30" y="286.12" width="3.50" height="2.80" fill="#f0f0f0" />
<g transform="translate(568.5,269) rotate(-90)" fill="#a8a8a8"><path d="M -9 -1 Q -7 -10 3 -9 Q 9 -8 9 -4 Q 3 -6.5 -2 -5.5 Q -6.5 -4.5 -9 -1 Z"/><path d="M 9 1 Q 7 10 -3 9 Q -9 8 -9 4 Q -3 6.5 2 5.5 Q 6.5 4.5 9 1 Z"/><path d="M -6 2 Q -1 -3 6 -2 Q 1 1 -6 2 Z"/></g>
<text transform="translate(581.5,290) rotate(-90)" font-family="Liberation Mono, monospace" font-size="7.5" fill="#9a9a9a" textLength="34" lengthAdjust="spacingAndGlyphs">CP2102N</text>
<text transform="translate(587.7,290) rotate(-90)" font-family="Liberation Mono, monospace" font-size="7.5" fill="#9a9a9a" textLength="34" lengthAdjust="spacingAndGlyphs">A00ULQ</text>
<text transform="translate(594.5,290) rotate(-90)" font-family="Liberation Mono, monospace" font-size="7.5" fill="#9a9a9a" textLength="34" lengthAdjust="spacingAndGlyphs">1741 A</text>
<circle cx="558.75" cy="290.5" r="1.5" fill="#888"/>
<rect x="615.90" y="259.30" width="6.90" height="6.80" fill="#efefec" />
<rect x="626.50" y="259.30" width="7.10" height="6.80" fill="#efefec" />
<rect x="615.90" y="270.00" width="6.90" height="6.80" fill="#efefec" />
<rect x="626.50" y="270.00" width="7.10" height="6.80" fill="#efefec" />
<rect x="615.90" y="280.30" width="6.90" height="6.80" fill="#efefec" />
<rect x="626.50" y="280.30" width="7.10" height="6.80" fill="#efefec" />
<rect x="615.90" y="291.00" width="6.90" height="6.80" fill="#efefec" />
<rect x="626.50" y="291.00" width="7.10" height="6.80" fill="#efefec" />
<rect x="639.70" y="267.50" width="9.20" height="11.20" fill="#909090" />
<rect x="641.20" y="269.50" width="6.20" height="7.50" fill="#606060" />
<rect x="642.20" y="263.40" width="4.20" height="4.10" fill="#e8e8e6" />
<rect x="642.20" y="279.70" width="4.20" height="4.10" fill="#e8e8e6" />
<rect x="654.00" y="267.50" width="9.20" height="11.20" fill="#909090" />
<rect x="655.50" y="269.50" width="6.20" height="7.50" fill="#606060" />
<rect x="656.50" y="263.40" width="4.20" height="4.10" fill="#e8e8e6" />
<rect x="656.50" y="279.70" width="4.20" height="4.10" fill="#e8e8e6" />
<rect x="617.30" y="309.20" width="15.30" height="12.20" fill="#333" />
<rect x="617.30" y="309.20" width="15.30" height="12.20" fill="none" stroke="#888" stroke-width="0.8" />
<rect x="609.00" y="314.00" width="6.00" height="4.40" fill="#e8e8e6" />
<rect x="634.00" y="314.00" width="6.00" height="4.40" fill="#e8e8e6" />
<rect x="562.70" y="306.70" width="36.30" height="26.00" fill="none" stroke="#e4e4e4" stroke-width="1.2" />
<rect x="566.00" y="309.50" width="7.00" height="20.50" fill="#ededeb" />
<rect x="566.00" y="315.50" width="7.00" height="8.00" fill="#2a2a2a" />
<rect x="577.50" y="309.50" width="7.00" height="20.50" fill="#ededeb" />
<rect x="577.50" y="315.50" width="7.00" height="8.00" fill="#2a2a2a" />
<rect x="589.00" y="309.50" width="7.00" height="20.50" fill="#ededeb" />
<rect x="589.00" y="315.50" width="7.00" height="8.00" fill="#a07850" />
<rect x="604.00" y="344.00" width="35.00" height="18.50" fill="none" stroke="#e4e4e4" stroke-width="1.2" />
<rect x="604.00" y="330.80" width="26.00" height="13.20" fill="none" stroke="#e4e4e4" stroke-width="1.2" />
<rect x="607.50" y="335.80" width="5.80" height="6.70" fill="#efefec" />
<rect x="619.00" y="335.80" width="6.00" height="6.70" fill="#efefec" />
<rect x="621.00" y="337.00" width="2.00" height="4.50" fill="#555" />
<rect x="607.50" y="349.00" width="26.50" height="10.00" fill="#f4f4f2" />
<rect x="618.00" y="350.00" width="6.00" height="8.00" fill="#d5d5d3" />
<rect x="640.00" y="333.70" width="12.00" height="9.10" fill="#3a3a3a" />
<rect x="640.00" y="333.70" width="12.00" height="9.10" fill="none" stroke="#6a6a6a" stroke-width="0.8" />
<rect x="636.20" y="335.00" width="3.80" height="6.50" fill="#d8d8d6" />
<rect x="652.00" y="335.00" width="3.80" height="6.50" fill="#d8d8d6" />
<circle cx="674.3" cy="253.3" r="8.5" fill="#e9e9e6"/>
<circle cx="674.3" cy="328.7" r="8.5" fill="#e6e6e3"/>
<circle cx="714" cy="251.3" r="6.5" fill="#a8a8a4"/>
<circle cx="714" cy="337.9" r="6.5" fill="#c4c4c0"/>
<rect x="668.00" y="271.00" width="22.00" height="41.00" fill="#141414" />
<rect x="670.20" y="273.70" width="20.30" height="5.10" fill="#eeeeec" />
<rect x="670.20" y="281.80" width="20.30" height="5.10" fill="#eeeeec" />
<rect x="670.20" y="290.00" width="20.30" height="5.00" fill="#eeeeec" />
<rect x="670.20" y="298.00" width="20.30" height="5.20" fill="#eeeeec" />
<rect x="670.20" y="305.30" width="20.30" height="6.10" fill="#eeeeec" />
<path d="M 682.4 253.9 L 749.6 253.9 L 749.6 330.7 L 682.4 330.7 L 682.4 321.6 L 690.5 321.6 L 690.5 266.6 L 682.4 266.6 Z" fill="#e2e2de"/>
<rect x="682.40" y="330.70" width="67.20" height="4.80" fill="#f0f0ee" />
<rect x="682.40" y="253.90" width="67.20" height="3.10" fill="#efefed" />
<rect x="693.60" y="274.70" width="56.00" height="39.70" fill="#ededea" />
<rect x="690.50" y="275.70" width="3.10" height="38.70" fill="#c4ac7a" />
<path d="M 671.2 266.6 L 699 266.6 Q 701.8 266.6 701.8 269.5 L 701.8 272 Q 701.8 274.7 699 274.7 L 671.2 274.7 Z" fill="#2c2c2c"/>
<path d="M 671.2 314.4 L 699 314.4 Q 701.8 314.4 701.8 317.2 L 701.8 319 Q 701.8 321.6 699 321.6 L 671.2 321.6 Z" fill="#2c2c2c"/>
<rect x="721.00" y="264.50" width="6.20" height="6.10" fill="#1e1e1e" />
<rect x="727.20" y="264.50" width="14.80" height="6.10" fill="#f4f4f2" />
<rect x="721.00" y="317.50" width="6.20" height="6.10" fill="#1e1e1e" />
<rect x="727.20" y="317.50" width="14.80" height="6.10" fill="#f4f4f2" />
<rect x="749.60" y="257.40" width="6.10" height="72.30" fill="#b3805a" />
<rect x="750.60" y="258.40" width="4.10" height="70.30" fill="#c4936c" />
<rect x="382.50" y="325.00" width="45.00" height="15.00" fill="none" stroke="#e4e4e4" stroke-width="1.2" />
<rect x="403.70" y="315.00" width="23.80" height="10.00" fill="none" stroke="#e4e4e4" stroke-width="1.2" />
<line x1="404" y1="325" x2="404" y2="340" stroke="#e4e4e4" stroke-width="1"/>
<rect x="386.10" y="328.50" width="5.20" height="7.50" fill="#efefec" />
<rect x="395.90" y="328.50" width="5.20" height="7.50" fill="#efefec" />
<rect x="408.50" y="328.50" width="5.00" height="7.50" fill="#efefec" />
<rect x="413.50" y="329.00" width="7.00" height="6.50" fill="#9c7a52" />
<rect x="420.50" y="328.50" width="5.00" height="7.50" fill="#efefec" />
<rect x="409.50" y="316.50" width="5.00" height="7.00" fill="#efefec" />
<rect x="420.00" y="316.50" width="5.00" height="7.00" fill="#efefec" />
<rect x="482.50" y="326.00" width="42.70" height="13.00" fill="none" stroke="#e4e4e4" stroke-width="1.2" />
<line x1="503.5" y1="326" x2="503.5" y2="339" stroke="#e4e4e4" stroke-width="1"/>
<rect x="486.40" y="329.00" width="5.20" height="7.00" fill="#efefec" />
<rect x="495.90" y="329.00" width="5.20" height="7.00" fill="#efefec" />
<rect x="508.00" y="329.00" width="4.50" height="7.00" fill="#efefec" />
<rect x="512.50" y="329.50" width="6.50" height="6.00" fill="#9c7a52" />
<rect x="519.00" y="329.00" width="4.50" height="7.00" fill="#efefec" />
<rect x="375.75" y="345.25" width="9.00" height="16.00" fill="#f2f1ea" />
<rect x="377.75" y="349.25" width="5.00" height="8.00" fill="#d8c8a8" />
<rect x="425.25" y="345.25" width="9.00" height="16.00" fill="#f2f1ea" />
<rect x="427.25" y="349.25" width="5.00" height="8.00" fill="#d8c8a8" />
<rect x="383.75" y="341.25" width="42.50" height="30.00" fill="#c9c6c0" />
<rect x="385.75" y="342.75" width="38.50" height="26.00" fill="#d6d3ce" />
<circle cx="405" cy="355.5" r="10.5" fill="url(#btn)"/>
<rect x="476.00" y="346.00" width="9.00" height="14.50" fill="#f2f1ea" />
<rect x="478.00" y="350.00" width="5.00" height="6.50" fill="#d8c8a8" />
<rect x="525.50" y="346.00" width="9.00" height="14.50" fill="#f2f1ea" />
<rect x="527.50" y="350.00" width="5.00" height="6.50" fill="#d8c8a8" />
<rect x="484.00" y="342.00" width="42.50" height="28.50" fill="#c9c6c0" />
<rect x="486.00" y="343.50" width="38.50" height="24.50" fill="#d6d3ce" />
<circle cx="507.6" cy="355.5" r="10.5" fill="url(#btn)"/>
<text x="256" y="108" font-family="Liberation Sans, sans-serif" font-size="18" fill="#111">ESP32-PICO-D4</text>
<text x="405" y="108" font-family="Liberation Sans, sans-serif" font-size="18" fill="#111">LDO</text>
<text x="542" y="108" font-family="Liberation Sans, sans-serif" font-size="18" fill="#111">USB-to-UART Bridge</text>
<text x="40" y="279" font-family="Liberation Sans, sans-serif" font-size="18" fill="#111">3D Antenna</text>
<text x="797" y="296" font-family="Liberation Sans, sans-serif" font-size="18" fill="#111">Micro USB Port</text>
<text x="801" y="350" font-family="Liberation Sans, sans-serif" font-size="18" fill="#111">Power On LED</text>
<text x="363" y="471" font-family="Liberation Sans, sans-serif" font-size="18" fill="#111">I/O Connector</text>
<line x1="326.1" y1="121" x2="326.1" y2="260.2" stroke="#e04b4b" stroke-width="2"/><circle cx="326.1" cy="260.2" r="3.6" fill="#e04b4b"/>
<line x1="406" y1="119" x2="406" y2="262" stroke="#e04b4b" stroke-width="2"/><circle cx="406" cy="262" r="3.6" fill="#e04b4b"/>
<line x1="601" y1="124" x2="601" y2="267.5" stroke="#e04b4b" stroke-width="2"/><circle cx="601" cy="267.5" r="3.6" fill="#e04b4b"/>
<line x1="146" y1="272" x2="195" y2="272" stroke="#e04b4b" stroke-width="2"/><circle cx="195" cy="272" r="3.6" fill="#e04b4b"/>
<line x1="743" y1="289.5" x2="785" y2="289.5" stroke="#e04b4b" stroke-width="2"/><circle cx="743" cy="289.5" r="3.6" fill="#e04b4b"/>
<line x1="628" y1="354" x2="786" y2="354" stroke="#e04b4b" stroke-width="2"/><circle cx="628" cy="354" r="3.6" fill="#e04b4b"/>
<line x1="428.7" y1="392" x2="428.7" y2="447" stroke="#e04b4b" stroke-width="2"/><circle cx="428.7" cy="392" r="3.6" fill="#e04b4b"/>
</svg></body></html>
